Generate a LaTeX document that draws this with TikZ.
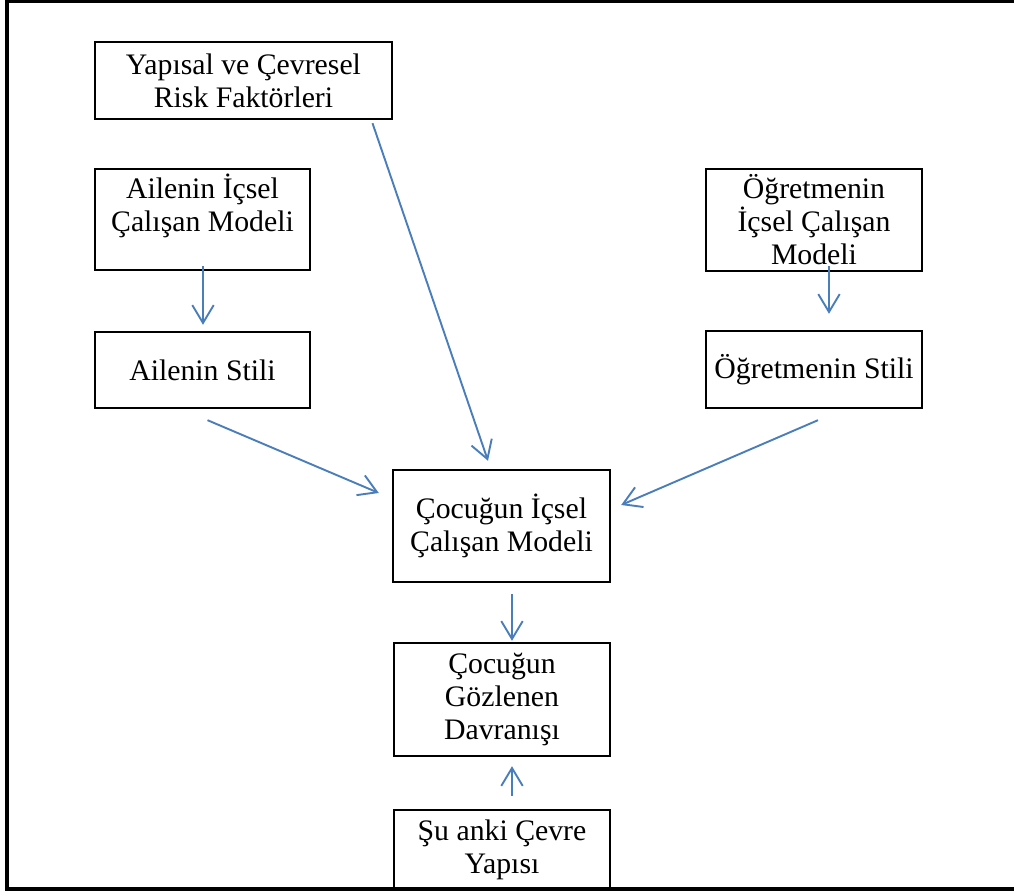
\documentclass[tikz,border=0pt]{standalone}
\usepackage{fontspec}
\setmainfont{Liberation Serif}
\usepackage{tikz}
\usetikzlibrary{arrows.meta}
\usetikzlibrary{calc}
\definecolor{arrowblue}{RGB}{74,126,187}
\tikzstyle{box}=[draw=black,line width=1pt,inner sep=0pt,align=center,font=\fontsize{12.5pt}{13.9pt}\selectfont]
\tikzstyle{edge} = [draw,arrowblue,line width=0.8pt,-{Straight Barb[length=7.5pt,width=9pt]}]
\tikzstyle{frame} = [draw,black,line width=1.3pt]
\begin{document}
\begin{tikzpicture}[x=0.42pt,y=-0.42pt]

  \def\px{0.42pt};
  \useasboundingbox (0,0) rectangle (1014,895);

  % page frame (open on the right)
  \path[frame] (1014,1) -- (7,1) -- (7,889) -- (1014,889);

   \foreach \x/\y/\w/\h/\name/\label in {
        243.5/80.5/297/77/risk/{Yapısal ve Çevresel\\Risk Faktörleri},
        202.5/219.5/215/101/famwm/{Ailenin İçsel\\Çalışan Modeli\\~},
        202.5/370/215/76/famstyle/{Ailenin Stili},
        814/220/216/102/teachwm/{Öğretmenin\\İçsel Çalışan\\Modeli},
        814/369.5/216/77/teachstyle/{Öğretmenin Stili},
        501.5/526/217/112/child/{Çocuğun İçsel\\Çalışan Modeli},
        502/699.5/216/113/observed/{Çocuğun\\Gözlenen\\Davranışı},
        502/849.5/216/79/env/{Şu anki Çevre\\Yapısı}}
          \node[box, minimum width=\w*\px, minimum height=\h*\px] (\name) at (\x,\y) {\label};

  \foreach \source/\sx/\sy/\dest/\dx/\dy in {
        risk.south/129/3/child.north/-13.5/-8,
        famwm.south/0.5/-5/famstyle.north/0.5/-6,
        famstyle.south/5/11/child.west/-13/-33,
        teachwm.south/15/-6/teachstyle.north/15/-16,
        teachstyle.south/4/11/child.east/10/-21,
        child.south/10.5/11/observed.north/10/-1}
         \path[edge] ($(\source)+(\sx,\sy)$) -- ($(\dest)+(\dx,\dy)$);

  \path[edge] ($(env.north)+(10,-13)$) -- ($(observed.south)+(10,9)$);

   \end{tikzpicture}
\end{document}
